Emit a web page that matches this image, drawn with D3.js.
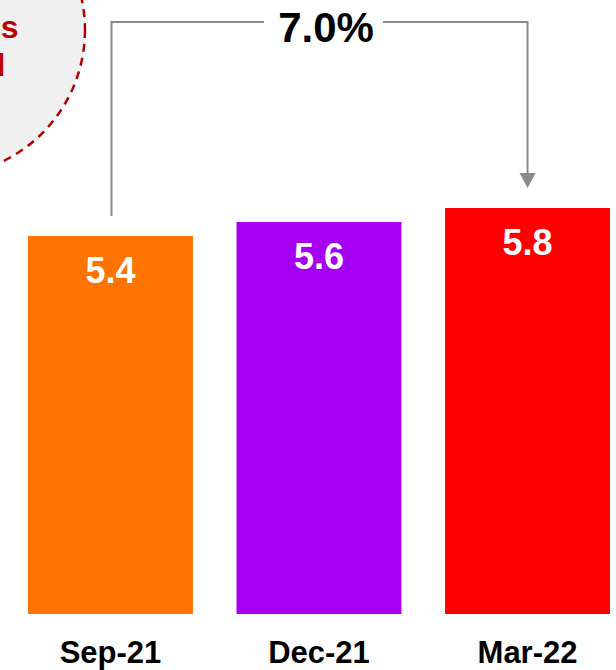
<!DOCTYPE html>
<html>
<head>
<meta charset="utf-8">
<script src="https://cdn.jsdelivr.net/npm/d3@7/dist/d3.min.js"></script>
<style>
  html, body { margin: 0; padding: 0; background: #fff; }
  svg { display: block; }
  text { font-family: "Liberation Sans", Arial, Helvetica, sans-serif; font-weight: bold; }
</style>
</head>
<body>
<div id="chart"></div>
<script>
// Quarterly values
const categories = ["Sep-21", "Dec-21", "Mar-22"];
const values = [5.4, 5.6, 5.8];
const barColors = ["#ff7300", "#a500f2", "#ff0000"];
const changeLabel = "7.0%";
const calloutLines = ["s", "l"];

const W = 616, H = 670;
const svg = d3.select("#chart").append("svg")
  .attr("width", W).attr("height", H);

const x = d3.scaleBand()
  .domain(categories)
  .range([28, 610])
  .paddingInner(0.209)
  .paddingOuter(0);

const y = d3.scaleLinear()
  .domain([0, 5.8])
  .range([614, 208]);

// Dashed callout bubble in the top-left corner
svg.append("circle")
  .attr("cx", -61).attr("cy", 30).attr("r", 146)
  .attr("fill", "#f0f0f0")
  .attr("stroke", "#b00000")
  .attr("stroke-width", 2.5)
  .attr("stroke-dasharray", "8,6");

svg.selectAll("text.callout")
  .data(calloutLines)
  .join("text")
  .attr("class", "callout")
  .attr("x", (d, i) => i === 0 ? 18.5 : 5.5)
  .attr("y", (d, i) => 38 + i * 38)
  .attr("text-anchor", "end")
  .attr("font-size", 32)
  .attr("fill", "#c00000")
  .text(d => d);

// Bars
svg.selectAll("rect.bar")
  .data(values)
  .join("rect")
  .attr("class", "bar")
  .attr("x", (d, i) => x(categories[i]))
  .attr("y", d => y(d))
  .attr("width", x.bandwidth())
  .attr("height", d => y(0) - y(d))
  .attr("fill", (d, i) => barColors[i]);

// Value labels inside bars
svg.selectAll("text.val")
  .data(values)
  .join("text")
  .attr("class", "val")
  .attr("x", (d, i) => x(categories[i]) + x.bandwidth() / 2)
  .attr("y", d => y(d) + 47)
  .attr("text-anchor", "middle")
  .attr("font-size", 36)
  .attr("fill", "#fff")
  .text(d => d.toFixed(1));

// Category labels
const xAxis = d3.axisBottom(x).tickSize(0).tickPadding(0);
const gx = svg.append("g")
  .attr("transform", `translate(0, ${y(0)})`)
  .call(xAxis);
gx.select(".domain").remove();
gx.selectAll("text")
  .attr("y", 49)
  .attr("dy", 0)
  .attr("font-size", 31)
  .attr("font-family", "'Liberation Sans', Arial, sans-serif")
  .attr("font-weight", "bold")
  .attr("fill", "#000");

// Growth connector from first to last bar
const xFirst = x(categories[0]) + x.bandwidth() / 2 + 1;
const xLast = x(categories[2]) + x.bandwidth() / 2;
const topY = 22;
const gap = 20;
const textX = 326;
const grey = "#8a8a8a";

svg.append("path")
  .attr("d", d3.line()([[xFirst, y(values[0]) - gap], [xFirst, topY], [264, topY]]))
  .attr("fill", "none").attr("stroke", grey).attr("stroke-width", 2);

svg.append("path")
  .attr("d", d3.line()([[383, topY], [xLast, topY], [xLast, y(values[2]) - 33]]))
  .attr("fill", "none").attr("stroke", grey).attr("stroke-width", 2);

const tipY = y(values[2]) - 20;
svg.append("path")
  .attr("d", d3.line()([[xLast - 8, tipY - 15], [xLast + 8, tipY - 15], [xLast, tipY]]) + "Z")
  .attr("fill", grey);

svg.append("text")
  .attr("x", textX).attr("y", 42)
  .attr("text-anchor", "middle")
  .attr("font-size", 42)
  .attr("fill", "#000")
  .text(changeLabel);
</script>
</body>
</html>
